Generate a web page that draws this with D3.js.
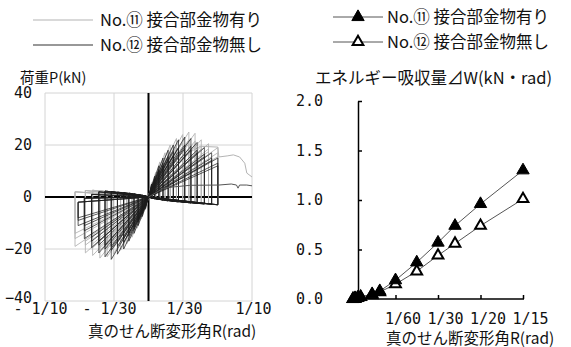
<!DOCTYPE html>
<html><head><meta charset="utf-8">
<script src="https://cdn.jsdelivr.net/npm/d3@7"></script>
<style>
html,body{margin:0;padding:0;background:#fff;}
svg{display:block;}
.jp{font-family:"Noto Sans CJK JP","Noto Sans",sans-serif;fill:#111;}
.num{font-family:"DejaVu Sans Mono",monospace;fill:#111;}
</style></head><body>
<svg id="chart" width="571" height="347"></svg>
<script>
// ---------------- data ----------------
const seriesNames = ["No.⑪ 接合部金物有り", "No.⑫ 接合部金物無し"];
const leftTitle = "荷重P(kN)";
const rightTitle = "エネルギー吸収量⊿W(kN・rad)";
const xTitle = "真のせん断変形角R(rad)";

const loadTicks = [-40, -20, 0, 20, 40];
const angleTicks = [-0.1, -1/30, 1/30, 0.1];
const angleTickLabels = ["- 1/10", "- 1/30", "1/30", "1/10"];

// each row: [xPos, P1, P2, P3, residualPos, xNeg, N1, N2, N3, residualNeg]  (rad, kN)
const no11Cycles = [
  [0.003, 5.5, 5.0, 4.7, -0.5, -0.003, -5.0, -4.5, -4.2, 0.5],
  [0.007, 9.5, 8.5, 8.0, -0.8, -0.007, -8.5, -7.5, -7.0, 0.8],
  [0.011, 13.5, 12.0, 11.2, -1.0, -0.011, -12.0, -10.5, -10.0, 1.0],
  [0.016, 17.0, 15.0, 14.0, -1.2, -0.016, -15.5, -13.5, -12.5, 1.2],
  [0.021, 20.0, 17.5, 16.5, -1.5, -0.021, -18.0, -16.0, -15.0, 1.5],
  [0.027, 22.5, 19.5, 18.5, -1.8, -0.027, -20.5, -18.0, -17.0, 1.8],
  [0.033, 24.0, 21.0, 19.5, -2.0, -0.034, -22.0, -19.5, -18.0, 2.0],
  [0.039, 25.0, 22.0, 20.5, -2.2, -0.040, -23.0, -20.0, -18.5, 2.2],
  [0.045, 24.5, 21.5, 20.0, -2.4, -0.047, -23.5, -20.5, -19.0, 2.4],
  [0.051, 22.0, 19.5, 18.5, -2.6, -0.054, -22.5, -19.5, -18.0, 2.6],
  [0.058, 20.5, 18.5, 17.5, -2.8, -0.061, -21.5, -18.5, -17.0, 2.5],
  [0.067, 19.0, 17.0, 15.5, -3.0, -0.071, -19.0, -16.0, -14.0, 2.0]
];
const no12Cycles = [
  [0.003, 5.0, 4.5, 4.2, -0.4, -0.003, -4.5, -4.0, -3.8, 0.4],
  [0.006, 8.0, 7.0, 6.5, -0.7, -0.006, -7.5, -6.5, -6.0, 0.7],
  [0.010, 12.0, 10.5, 10.0, -1.0, -0.010, -11.0, -9.5, -9.0, 1.0],
  [0.014, 15.0, 13.0, 12.0, -1.2, -0.014, -14.0, -12.5, -11.5, 1.2],
  [0.019, 18.0, 15.5, 14.5, -1.5, -0.019, -17.0, -15.0, -14.0, 1.5],
  [0.024, 20.0, 17.5, 16.0, -1.7, -0.024, -20.0, -17.5, -16.0, 1.7],
  [0.029, 22.0, 19.0, 17.5, -1.9, -0.030, -22.0, -19.0, -17.5, 1.9],
  [0.035, 23.0, 20.0, 18.5, -2.1, -0.036, -24.0, -20.5, -19.0, 2.1],
  [0.041, 22.5, 19.5, 18.0, -2.3, -0.042, -23.0, -20.0, -18.5, 2.3],
  [0.047, 21.0, 18.0, 17.0, -2.5, -0.048, -21.5, -18.5, -17.0, 2.0],
  [0.054, 19.0, 16.5, 15.5, -2.7, -0.055, -19.5, -17.0, -15.5, 1.0],
  [0.061, 17.0, 15.0, 14.0, -2.8, -0.062, -16.0, -13.0, -11.0, -0.5],
  [0.067, 15.0, 13.0, 12.0, -3.0, -0.068, -11.0, -9.0, -8.0, -2.0]
];
// final monotonic push (rad, kN)
const no11Final = [[0, 0], [0.01, 9], [0.03, 15], [0.05, 19.5], [0.067, 19.2], [0.068, 15.4], [0.076, 15.8],
  [0.082, 16.2], [0.088, 15.4], [0.093, 13.0], [0.095, 9.2], [0.1, 7.7]];
const no12Final = [[0, 0], [0.015, 3.5], [0.04, 4.5], [0.068, 4.6], [0.08, 5.0], [0.085, 4.6], [0.0865, 3.4],
  [0.088, 4.6], [0.095, 4.6], [0.1, 4.3]];

// energy chart
const energyAngles = [0.0000, 0.0008, 0.0018, 0.0030, 0.0075, 0.0105, 1/60, 0.025, 1/30, 0.040, 0.050, 1/15];
const energyNo11 = [0.00, 0.01, 0.01, 0.02, 0.05, 0.08, 0.19, 0.37, 0.57, 0.74, 0.96, 1.30];
const energyNo12 = [0.00, 0.00, 0.01, 0.02, 0.04, 0.07, 0.15, 0.28, 0.44, 0.56, 0.74, 1.01];
const energyTicks = [0, 0.5, 1.0, 1.5, 2.0];
const energyTickLabels = ["0.0", "0.5", "1.0", "1.5", "2.0"];
const energyAngleTicks = [1/60, 1/30, 1/20, 1/15];
const energyAngleLabels = ["1/60", "1/30", "1/20", "1/15"];

// ---------------- drawing ----------------
const svg = d3.select("#chart");
svg.append("rect").attr("width", 571).attr("height", 347).attr("fill", "#fff");

const COL11 = "#b4b4b4", COL12 = "#1c1c1c";

// ===== Left chart =====
const xL = d3.scaleLinear().domain([-0.1, 0.1]).range([45, 252]);
const yL = d3.scaleLinear().domain([-40, 40]).range([301, 93]);
const gL = svg.append("g");

// grid
gL.selectAll("line.hg").data(loadTicks.filter(d => d !== 0)).join("line")
  .attr("x1", xL(-0.1)).attr("x2", xL(0.1)).attr("y1", d => yL(d)).attr("y2", d => yL(d))
  .attr("stroke", "#d4d4d4").attr("stroke-width", 1);
gL.selectAll("line.vg").data(angleTicks).join("line")
  .attr("x1", d => xL(d)).attr("x2", d => xL(d)).attr("y1", yL(40)).attr("y2", yL(-40))
  .attr("stroke", "#d4d4d4").attr("stroke-width", 1);

const lineL = d3.line().x(d => xL(d[0])).y(d => yL(d[1]));
// loop: origin -> positive peak -> drop to residual -> back to origin -> negative peak -> drop -> origin
function cyclePaths(rows) {
  const out = [];
  rows.forEach(r => {
    for (let k = 0; k < 3; k++) {
      out.push([[0, 0], [r[0], r[1 + k]], [r[0], r[4]], [0, 0],
                [r[5], r[6 + k]], [r[5], r[9]], [0, 0]]);
    }
  });
  return out;
}
// zero axes (under curves)
gL.append("line").attr("x1", xL(-0.1)).attr("x2", xL(0.1)).attr("y1", yL(0)).attr("y2", yL(0))
  .attr("stroke", "#000").attr("stroke-width", 2);
gL.append("line").attr("x1", xL(0)).attr("x2", xL(0)).attr("y1", yL(40)).attr("y2", yL(-40))
  .attr("stroke", "#000").attr("stroke-width", 2);

gL.append("g").selectAll("path").data(cyclePaths(no11Cycles)).join("path")
  .attr("d", lineL).attr("fill", "none").attr("stroke", COL11).attr("stroke-width", 0.9);
gL.append("path").datum(no11Final).attr("d", lineL).attr("fill", "none").attr("stroke", COL11).attr("stroke-width", 1);
gL.append("g").selectAll("path").data(cyclePaths(no12Cycles)).join("path")
  .attr("d", lineL).attr("fill", "none").attr("stroke", COL12).attr("stroke-width", 0.9).attr("stroke-opacity", 0.8);
gL.append("path").datum(no12Final).attr("d", lineL).attr("fill", "none").attr("stroke", "#555").attr("stroke-width", 1);

// axes labels
const yAxisL = d3.axisLeft(yL).tickValues(loadTicks).tickSize(0).tickPadding(13).tickFormat(d3.format("d"));
const gya = gL.append("g").attr("transform", `translate(${xL(-0.1)},0)`).call(yAxisL);
gya.select(".domain").remove();
gya.selectAll("text").attr("class", "num").attr("font-size", 15).attr("font-family", null)
  .attr("dy", d => d === -40 ? "0.1em" : "0.32em");

const xAxisL = d3.axisBottom(xL).tickValues(angleTicks).tickSize(0).tickPadding(4)
  .tickFormat((d, i) => angleTickLabels[i]);
const gxa = gL.append("g").attr("transform", `translate(0,${yL(-40)})`).call(xAxisL);
gxa.select(".domain").remove();
gxa.selectAll("text").attr("class", "num").attr("font-size", 15).attr("font-family", null)
  .attr("dx", d => d < 0 ? -5 : 1).attr("dy", "0.62em");

gL.append("text").attr("class", "jp").attr("x", 20).attr("y", 83).attr("font-size", 14.5).text(leftTitle);
gL.append("text").attr("class", "jp").attr("x", 88).attr("y", 337).attr("font-size", 15.5).text(xTitle);

// legend left
[COL11, "#333"].forEach((c, i) => {
  const y = 20 + i * 25;
  gL.append("line").attr("x1", 33).attr("x2", 93).attr("y1", y).attr("y2", y).attr("stroke", c).attr("stroke-width", 1.2);
  gL.append("text").attr("class", "jp").attr("x", 100).attr("y", y + 6).attr("font-size", 16.5).text(seriesNames[i]);
});

// ===== Right chart =====
const xR = d3.scaleLinear().domain([0, 1/15]).range([353, 523]);
const yR = d3.scaleLinear().domain([0, 2]).range([299, 101]);
const gR = svg.append("g");

const yAxisR = d3.axisLeft(yR).tickValues(energyTicks).tickSizeInner(-4).tickSizeOuter(0).tickPadding(35)
  .tickFormat((d, i) => energyTickLabels[i]);
const gyr = gR.append("g").attr("transform", "translate(358,0)").call(yAxisR);
gyr.select(".domain").attr("stroke-width", 1.5);
gyr.selectAll(".tick line").attr("stroke-width", 1.5);
gyr.selectAll("text").attr("class", "num").attr("font-size", 15).attr("font-family", null);

const xAxisR = d3.axisBottom(xR).tickValues(energyAngleTicks).tickSizeInner(-4).tickSizeOuter(0).tickPadding(14)
  .tickFormat((d, i) => energyAngleLabels[i]);
const gxr = gR.append("g").attr("transform", `translate(0,${yR(0)})`).call(xAxisR);
gxr.select(".domain").remove();
gxr.selectAll(".tick line").attr("stroke-width", 1.5);
gxr.selectAll("text").attr("class", "num").attr("font-size", 15).attr("font-family", null).attr("dx", 7);
gR.append("line").attr("x1", 358).attr("x2", xR(1/15) + 1).attr("y1", yR(0)).attr("y2", yR(0))
  .attr("stroke", "#000").attr("stroke-width", 1.5);

const lineR = d3.line().x(d => xR(d[0])).y(d => yR(d[1]));
const pts11 = energyAngles.map((a, i) => [a, energyNo11[i]]);
const pts12 = energyAngles.map((a, i) => [a, energyNo12[i]]);
gR.append("path").datum(pts11).attr("d", lineR).attr("fill", "none").attr("stroke", "#555").attr("stroke-width", 1);
gR.append("path").datum(pts12).attr("d", lineR).attr("fill", "none").attr("stroke", "#555").attr("stroke-width", 1);
const triF = d3.symbol().type(d3.symbolTriangle).size(66);
const triH = d3.symbol().type(d3.symbolTriangle).size(50);
gR.append("g").selectAll("path").data(pts12).join("path")
  .attr("d", triH).attr("transform", d => `translate(${xR(d[0])},${yR(d[1])})`)
  .attr("fill", "#fff").attr("stroke", "#000").attr("stroke-width", 2);
gR.append("g").selectAll("path").data(pts11).join("path")
  .attr("d", triF).attr("transform", d => `translate(${xR(d[0])},${yR(d[1])})`)
  .attr("fill", "#000").attr("stroke", "#000").attr("stroke-width", 1);

gR.append("text").attr("class", "jp").attr("x", 315).attr("y", 84).attr("font-size", 16.5).text(rightTitle);
gR.append("text").attr("class", "jp").attr("x", 386).attr("y", 344).attr("font-size", 15.5).text(xTitle);

// legend right
[0, 1].forEach(i => {
  const y = 17 + i * 25;
  gR.append("line").attr("x1", 333).attr("x2", 383).attr("y1", y).attr("y2", y).attr("stroke", "#555").attr("stroke-width", 1);
  gR.append("path").attr("d", i === 0 ? triF : triH).attr("transform", `translate(358,${y})`)
    .attr("fill", i === 0 ? "#000" : "#fff").attr("stroke", "#000").attr("stroke-width", i === 0 ? 1 : 2);
  gR.append("text").attr("class", "jp").attr("x", 387).attr("y", y + 6).attr("font-size", 16.5).text(seriesNames[i]);
});
</script>
</body></html>
